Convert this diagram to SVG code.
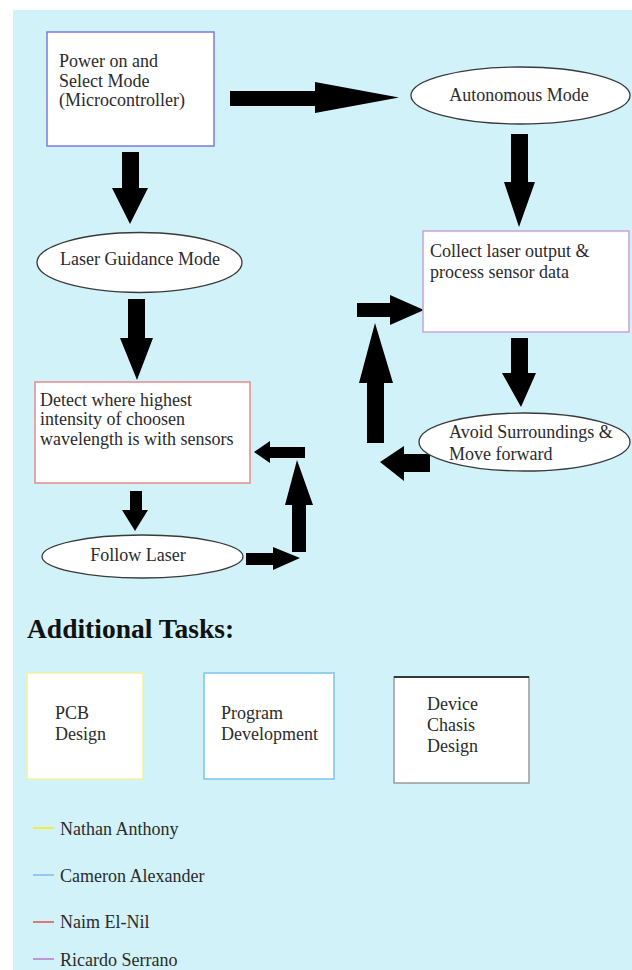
<svg xmlns="http://www.w3.org/2000/svg" width="632" height="970" viewBox="0 0 632 970">
<style>
text{font-family:"Liberation Serif","Times New Roman",serif;font-size:18px;fill:#2b2b2b}
.box{fill:#fff;stroke-width:1.5}
.ell{fill:#fff;stroke:#3a3a3a;stroke-width:1.3}
.arr{fill:#000}
.bold{font-weight:bold;font-size:27.5px;fill:#111}
.leg{stroke-width:2}
</style>
<rect x="0" y="0" width="632" height="970" fill="#fff"/>
<rect x="13" y="10" width="619" height="960" fill="#d1f2f9"/>

<g id="connectors">
<!-- Power -> Autonomous -->
<polygon class="arr" points="230,91 315,91 315,82 399,97.5 315,113 315,106 230,106"/>
<!-- Power -> Laser Guidance -->
<polygon class="arr" points="122,152 139,152 139,188 148,188 130,224 112,188 122,188"/>
<!-- Autonomous -> Collect -->
<polygon class="arr" points="511,134 528,134 528,182 535,182 519,227 504,182 511,182"/>
<!-- Collect -> Avoid -->
<polygon class="arr" points="511,338 528,338 528,373 536,373 521,407 502,373 511,373"/>
<!-- Avoid -> left -->
<polygon class="arr" points="430,454 430,472 404,472 404,481 380,462 404,446 404,454"/>
<!-- up arrow right loop -->
<polygon class="arr" points="367,443 384,443 384,383 393,383 375,323 359,383 367,383"/>
<!-- right into Collect -->
<polygon class="arr" points="357,303 390,303 390,295 424,310 390,325 390,317 357,317"/>
<!-- Laser Guidance -> Detect -->
<polygon class="arr" points="128,299 145,299 145,338 153,338 137,380 120,338 128,338"/>
<!-- Detect -> Follow -->
<polygon class="arr" points="130,491 142,491 142,510 148,510 135,531 122,510 130,510"/>
<!-- Follow -> right -->
<polygon class="arr" points="246,553 273,553 273,547 300,558 273,570 273,565 246,565"/>
<!-- up arrow left loop -->
<polygon class="arr" points="292,552 306,552 306,505 313,505 297,460 285,505 292,505"/>
<!-- left into Detect -->
<polygon class="arr" points="305,447 305,458 270,458 270,463 254,452 270,441 270,447"/>
</g>

<g id="power">
<rect class="box" x="47" y="32" width="167" height="114" stroke="#7a7ae0"/>
<text x="59" y="67">Power on and</text>
<text x="59" y="87">Select Mode</text>
<text x="59" y="106">(Microcontroller)</text>
</g>

<g id="autonomous">
<ellipse class="ell" cx="520.5" cy="95.5" rx="109.5" ry="28.5"/>
<text x="519" y="101" text-anchor="middle">Autonomous Mode</text>
</g>

<g id="collect">
<rect class="box" x="423" y="231" width="206" height="101" stroke="#c9a2d9"/>
<text x="430" y="257">Collect laser output &amp;</text>
<text x="430" y="278">process sensor data</text>
</g>

<g id="avoid">
<ellipse class="ell" cx="524.5" cy="442" rx="105.5" ry="29"/>
<text x="449" y="438">Avoid Surroundings &amp;</text>
<text x="449" y="460">Move forward</text>
</g>

<g id="laser-guidance">
<ellipse class="ell" cx="139.5" cy="262.5" rx="102.5" ry="30"/>
<text x="140" y="265" text-anchor="middle">Laser Guidance Mode</text>
</g>

<g id="detect">
<rect class="box" x="35" y="382" width="215" height="101" stroke="#e88a8a"/>
<text x="40" y="406">Detect where highest</text>
<text x="40" y="425">intensity of choosen</text>
<text x="40" y="445">wavelength is with sensors</text>
</g>

<g id="follow">
<ellipse class="ell" cx="142.5" cy="556.5" rx="100.5" ry="21.5"/>
<text x="138" y="561" text-anchor="middle">Follow Laser</text>
</g>

<text class="bold" x="27" y="638">Additional Tasks:</text>

<g id="pcb">
<rect class="box" x="27" y="673" width="116" height="106" stroke="#f4f0a0"/>
<text x="55" y="719">PCB</text>
<text x="55" y="740">Design</text>
</g>

<g id="program">
<rect class="box" x="204" y="673" width="130" height="106" stroke="#7cc4f0"/>
<text x="221" y="719">Program</text>
<text x="221" y="740">Development</text>
</g>

<g id="device">
<rect class="box" x="394" y="677" width="135" height="106" stroke="#9a9a9a"/>
<line x1="394" y1="677" x2="529" y2="677" stroke="#111" stroke-width="1.5"/>
<text x="427" y="710">Device</text>
<text x="427" y="731">Chasis</text>
<text x="427" y="752">Design</text>
</g>

<g id="legend">
<line class="leg" x1="33" y1="828" x2="54" y2="828" stroke="#f2ee40"/>
<text x="60" y="835">Nathan Anthony</text>
<line class="leg" x1="33" y1="875" x2="54" y2="875" stroke="#94c8f0"/>
<text x="60" y="882">Cameron Alexander</text>
<line class="leg" x1="33" y1="922" x2="54" y2="922" stroke="#e07878"/>
<text x="60" y="928">Naim El-Nil</text>
<line class="leg" x1="33" y1="959" x2="54" y2="959" stroke="#c096d6"/>
<text x="60" y="966">Ricardo Serrano</text>
</g>
</svg>
